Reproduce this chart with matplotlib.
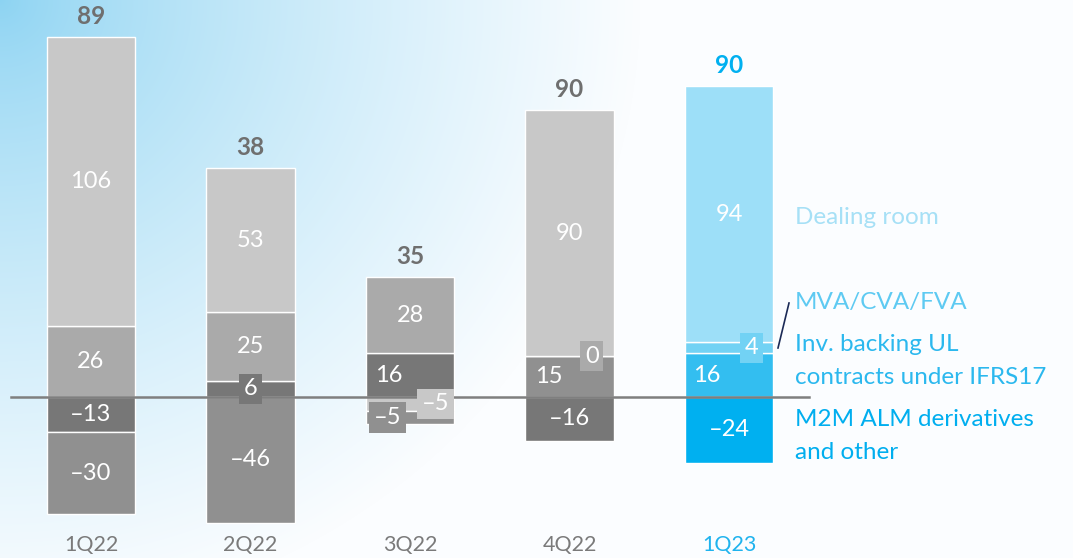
import numpy as np
import matplotlib
matplotlib.use("Agg")
import matplotlib.pyplot as plt

# ---------------- data ----------------
quarters = ["1Q22", "2Q22", "3Q22", "4Q22", "1Q23"]
dealing_room = [106, 53, -5, 90, 94]
mva_cva_fva = [26, 25, 28, 0, 4]
inv_backing_ul = [-30, -46, -5, 15, 16]
m2m_alm = [-13, 6, 16, -16, -24]
totals = [89, 38, 35, 90, 90]
legend_labels = ["Dealing room", "MVA/CVA/FVA",
                 "Inv. backing UL\ncontracts under IFRS17",
                 "M2M ALM derivatives\nand other"]

# ---------------- style ----------------
FONT = ["Lato", "DejaVu Sans"]
plt.rcParams["font.family"] = FONT

series = {
    "dealing": dealing_room,
    "mva": mva_cva_fva,
    "inv": inv_backing_ul,
    "m2m": m2m_alm,
}
gray_cols = {"dealing": "#c8c8c8", "mva": "#aaaaaa", "inv": "#909090", "m2m": "#777777"}
blue_cols = {"dealing": "#9ddff8", "mva": "#72d2f4", "inv": "#33bef0", "m2m": "#00b0f0"}
legend_cols = ["#a6e0f6", "#5ecaf2", "#2bb8ee", "#00aeef"]

pos_order = ["inv", "m2m", "mva", "dealing"]
neg_order = ["m2m", "dealing", "inv"]

# label placement: (x offset in bar units, boxed)
placement = {
    (1, "m2m"): (0.0, True),
    (2, "m2m"): (-0.13, False),
    (2, "dealing"): (0.16, True),
    (2, "inv"): (-0.14, True),
    (3, "mva"): (0.14, True),
    (3, "inv"): (-0.13, False),
    (4, "mva"): (0.14, True),
    (4, "inv"): (-0.14, False),
}

W, H = 1073, 558
fig = plt.figure(figsize=(W / 100, H / 100), dpi=100)

# background gradient
bg = fig.add_axes([0, 0, 1, 1])
yy, xx = np.mgrid[0:H, 0:W]
d = np.sqrt((xx / 640.0) ** 2 + (yy / 620.0) ** 2)
t = np.clip(d, 0, 1) ** 0.75
c0 = np.array([0x8c, 0xd3, 0xf2]) / 255.0
c1 = np.array([0xfb, 0xfd, 0xff]) / 255.0
img = c0[None, None, :] * (1 - t[..., None]) + c1[None, None, :] * t[..., None]
bg.imshow(img, aspect="auto", extent=[0, 1, 0, 1], origin="upper")
bg.set_axis_off()

ax = fig.add_axes([0, 0, 1, 1])
ax.patch.set_alpha(0)
ax.set_axis_off()
ppx = 159.5   # px per category
ppu = 2.73    # px per unit
x0, y0 = 91.0, 397.0
ax.set_xlim(-x0 / ppx, (W - x0) / ppx)
ax.set_ylim(-(H - y0) / ppu, y0 / ppu)

x = np.arange(len(quarters))
bw = 0.552

for i in range(len(quarters)):
    cols = blue_cols if i == len(quarters) - 1 else gray_cols
    segs = {}
    pb, nb = 0.0, 0.0
    for k in pos_order:
        v = series[k][i]
        if v > 0 or (v == 0 and k == "mva"):
            segs[k] = (pb, v)
            pb += v
    for k in neg_order:
        v = series[k][i]
        if v < 0:
            segs[k] = (nb, v)
            nb += v
    for k, (b, v) in segs.items():
        ax.bar(x[i], v, bw, bottom=b, color=cols[k], edgecolor="white",
               linewidth=1.0, zorder=2)
    for k, (b, v) in segs.items():
        dx, boxed = placement.get((i, k), (0.0, False))
        yc = b + v / 2
        kw = {}
        if boxed:
            kw["bbox"] = dict(boxstyle="square,pad=0.2", fc=cols[k], ec="none")
        ax.text(x[i] + dx, yc, f"{v}".replace("-", "\u2013"), ha="center",
                va="center", color="white", fontsize=17, zorder=4, **kw)
    tcol = "#00b0f0" if i == len(quarters) - 1 else "#6f6f6f"
    ax.text(x[i], pb + 7.5, str(totals[i]), ha="center", va="center",
            color=tcol, fontsize=17.5, fontweight="bold", zorder=4)
    lcol = "#1fb3ee" if i == len(quarters) - 1 else "#7a7a7a"
    ax.text(x[i], -(545 - y0) / ppu, quarters[i], ha="center", va="center",
            color=lcol, fontsize=15.5, zorder=4)

ax.plot([-0.5, 4.5], [0, 0], color="#7f7f7f", lw=1.8, zorder=3)

# legend text on the right
lx = (795 - x0) / ppx
legend_y_px = [217, 302, 361, 436]
for lab, ypx, c in zip(legend_labels, legend_y_px, legend_cols):
    ax.text(lx, (y0 - ypx) / ppu, lab, ha="left", va="center", color=c,
            fontsize=17.5, linespacing=1.65, zorder=4)

# leader line for MVA/CVA/FVA
ax.plot([(778 - x0) / ppx, (789 - x0) / ppx],
        [(y0 - 348) / ppu, (y0 - 303) / ppu], color="#1b2a56", lw=1.2, zorder=4)

fig.savefig("out.png", dpi=100)
